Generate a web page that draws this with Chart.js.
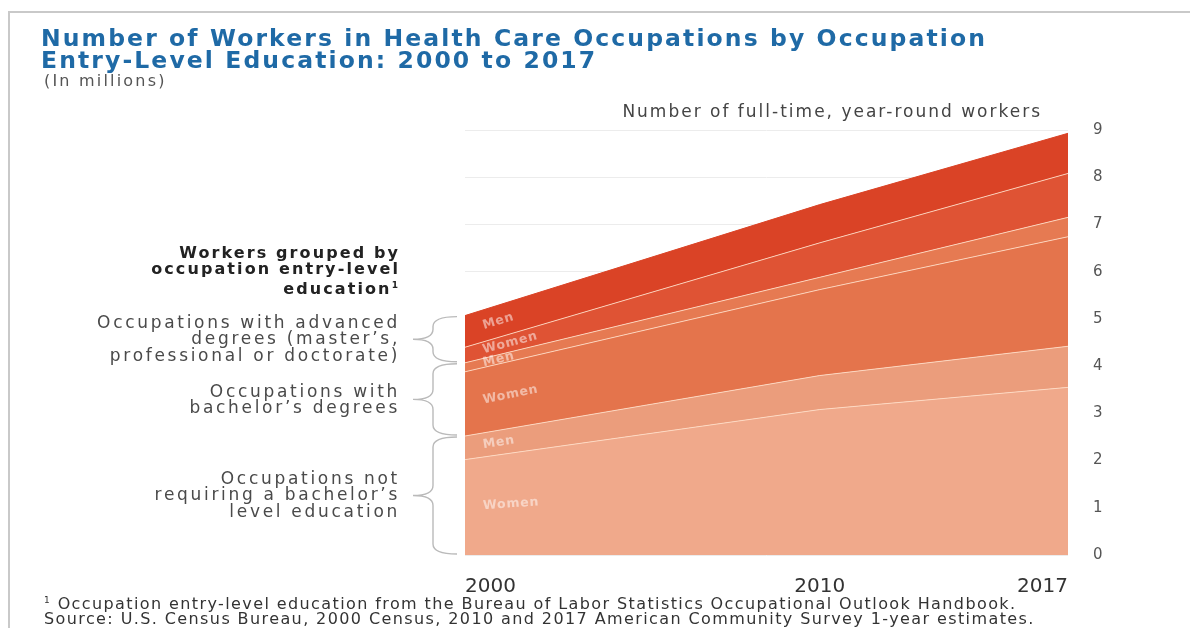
<!DOCTYPE html>
<html>
<head>
<meta charset="utf-8">
<script src="https://cdn.jsdelivr.net/npm/chart.js@4.4.0/dist/chart.umd.min.js"></script>
<style>
body{margin:0;background:#fff;font-family:"DejaVu Sans",sans-serif;}
#wrap{position:relative;width:1194px;height:628px;overflow:hidden;}
#frame{position:absolute;left:8px;top:11px;width:1180px;height:700px;border-left:2px solid #c9c9c9;border-top:2px solid #c9c9c9;}
#box{position:absolute;left:0;top:0;width:1194px;height:628px;}
.t{position:absolute;white-space:nowrap;}
#title{left:41px;top:27px;color:#1f6aa6;font-weight:bold;font-size:23.5px;line-height:22px;letter-spacing:2.1px;}
#unit{left:44px;top:71px;color:#555;font-size:16px;letter-spacing:2.2px;}
#ytitle{right:152px;top:101px;color:#444;font-size:17px;letter-spacing:2px;}
.grp{right:794px;text-align:right;color:#4a4a4a;font-size:17px;line-height:16.3px;letter-spacing:2.7px;}
#head{top:245px;color:#222;font-weight:bold;font-size:16px;line-height:16px;letter-spacing:2.1px;}
#g1{top:314px;}
#g2{top:383px;}
#g3{top:470px;}
#foot{left:44px;top:593px;color:#333;font-size:16px;line-height:15px;letter-spacing:1.4px;}
</style>
</head>
<body>
<div id="wrap">
  <div id="frame"></div>
  <div id="box"><canvas id="canvas"></canvas></div>
  <div class="t" id="title">Number of Workers in Health Care Occupations by Occupation<br>Entry-Level Education: 2000 to 2017</div>
  <div class="t" id="unit">(In millions)</div>
  <div class="t" id="ytitle">Number of full-time, year-round workers</div>
  <div class="t grp" id="head">Workers grouped by<br>occupation entry-level<br>education<sup style="font-size:9px">1</sup></div>
  <div class="t grp" id="g1">Occupations with advanced<br>degrees (master’s,<br>professional or doctorate)</div>
  <div class="t grp" id="g2">Occupations with<br>bachelor’s degrees</div>
  <div class="t grp" id="g3">Occupations not<br>requiring a bachelor’s<br>level education</div>
  <div class="t" id="foot"><sup style="font-size:9px">1</sup> Occupation entry-level education from the Bureau of Labor Statistics Occupational Outlook Handbook.<br>Source: U.S. Census Bureau, 2000 Census, 2010 and 2017 American Community Survey 1-year estimates.</div>
</div>
<script>
let years = [2000, 2010, 2017];
let notBachWomen = [2.02, 3.08, 3.55];
let notBachMen = [0.50, 0.72, 0.87];
let bachWomen = [1.36, 1.82, 2.32];
let bachMen = [0.19, 0.26, 0.41];
let advWomen = [0.33, 0.73, 0.93];
let advMen = [0.67, 0.81, 0.85];
let yTicks = [0, 1, 2, 3, 4, 5, 6, 7, 8, 9];

let series = [
  {label: 'Women', data: notBachWomen, color: '#f0a98b'},
  {label: 'Men', data: notBachMen, color: '#eb9d7c'},
  {label: 'Women', data: bachWomen, color: '#e4744c'},
  {label: 'Men', data: bachMen, color: '#e67a52'},
  {label: 'Women', data: advWomen, color: '#df5334'},
  {label: 'Men', data: advMen, color: '#da4326'}
];
// brace groups: pairs of dataset indexes
let groups = [[0, 1], [2, 3], [4, 5]];

let datasets = series.map(function(s, i){
  return {
    label: s.label,
    data: years.map(function(y, j){ return {x: y, y: s.data[j]}; }),
    backgroundColor: s.color,
    borderColor: i == series.length - 1 ? s.color : 'rgba(255,222,200,0.85)',
    borderWidth: 1,
    pointRadius: 0,
    tension: 0,
    fill: i == 0 ? 'origin' : '-1'
  };
});

let bracesPlugin = {
  id: 'braces',
  afterDraw: function(chart){
    let c = chart.ctx;
    let ys = chart.scales.y;
    let left = chart.chartArea.left;
    let spine = left - 32, tip = left - 52, end = left - 8;
    c.save();
    c.strokeStyle = '#bababa';
    c.lineWidth = 1.4;
    groups.forEach(function(g){
      let below = 0;
      for (let i = 0; i < g[0]; i++) below += series[i].data[0];
      let above = below;
      g.forEach(function(i){ above += series[i].data[0]; });
      let bot = ys.getPixelForValue(below) - 1;
      let top = ys.getPixelForValue(above) + 1;
      let mid = (top + bot) / 2;
      let r = 10;
      c.beginPath();
      c.moveTo(end, top);
      c.quadraticCurveTo(spine, top, spine, top + r);
      c.lineTo(spine, mid - r);
      c.quadraticCurveTo(spine, mid, tip, mid);
      c.quadraticCurveTo(spine, mid, spine, mid + r);
      c.lineTo(spine, bot - r);
      c.quadraticCurveTo(spine, bot, end, bot);
      c.stroke();
    });
    c.restore();
  }
};

let bandLabels = {
  id: 'bandLabels',
  afterDatasetsDraw: function(chart){
    let c = chart.ctx;
    let base = chart.scales.y.getPixelForValue(0);
    c.save();
    c.font = 'bold 12.5px "DejaVu Sans"';
    c.letterSpacing = '0.8px';
    c.fillStyle = 'rgba(255,255,255,0.5)';
    c.textBaseline = 'middle';
    series.forEach(function(s, i){
      let pts = chart.getDatasetMeta(i).data;
      let prev = i > 0 ? chart.getDatasetMeta(i - 1).data : null;
      let b0 = prev ? prev[0].y : base;
      let b1 = prev ? prev[1].y : base;
      let m0 = (pts[0].y + b0) / 2;
      let m1 = (pts[1].y + b1) / 2;
      let ang = Math.atan2(m1 - m0, pts[1].x - pts[0].x);
      let dx = 18;
      c.save();
      c.translate(pts[0].x + dx, m0 + Math.tan(ang) * dx);
      c.rotate(ang);
      c.fillText(s.label, 0, 0);
      c.restore();
    });
    c.restore();
  }
};

let ctx = document.getElementById('canvas').getContext('2d');
let chart = new Chart(ctx, {
  type: 'line',
  data: {datasets: datasets},
  options: {
    responsive: true,
    maintainAspectRatio: false,
    animation: false,
    layout: {padding: {left: 465, right: 81, top: 130, bottom: 33}},
    plugins: {legend: {display: false}, tooltip: {enabled: false}},
    scales: {
      x: {
        type: 'linear',
        min: 2000,
        max: 2017,
        afterBuildTicks: function(axis){ axis.ticks = years.map(function(v){ return {value: v}; }); },
        afterFit: function(axis){ axis.height = 40; },
        grid: {display: false},
        border: {display: false},
        ticks: {
          align: 'inner',
          padding: 12,
          color: '#333',
          font: {family: 'DejaVu Sans', size: 20},
          callback: function(v){ return String(v); }
        }
      },
      y: {
        position: 'right',
        stacked: true,
        min: 0,
        max: 9,
        afterBuildTicks: function(axis){ axis.ticks = yTicks.map(function(v){ return {value: v}; }); },
        afterFit: function(axis){ axis.width = 45; },
        grid: {color: '#ececec', drawTicks: false},
        border: {display: false},
        ticks: {
          padding: 25,
          color: '#555',
          font: {family: 'DejaVu Sans', size: 15}
        }
      }
    }
  },
  plugins: [bracesPlugin, bandLabels]
});
</script>
</body>
</html>
